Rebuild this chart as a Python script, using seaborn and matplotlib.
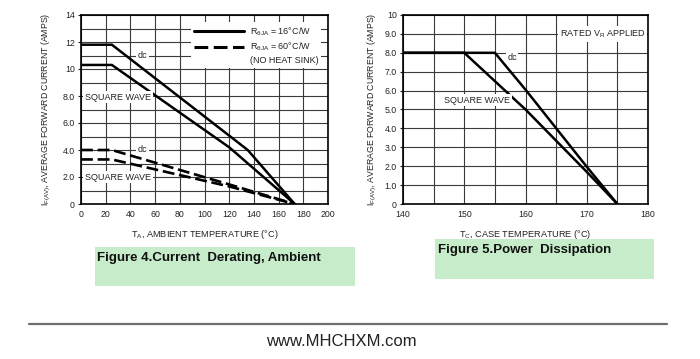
import matplotlib
matplotlib.use("Agg")
import matplotlib.pyplot as plt
from matplotlib.lines import Line2D
from matplotlib.patches import Rectangle
import seaborn as sns
import pandas as pd

# ---- data ----
ta_dc_hs = [0, 25, 135, 173]
if_dc_hs = [11.8, 11.8, 4.0, 0]
ta_sq_hs = [0, 25, 120, 173]
if_sq_hs = [10.3, 10.3, 4.2, 0]
ta_dc_nhs = [0, 25, 120, 173]
if_dc_nhs = [4.0, 4.0, 1.45, 0]
ta_sq_nhs = [0, 25, 120, 173]
if_sq_nhs = [3.3, 3.3, 1.3, 0]

tc_dc = [140, 155, 160, 170, 175]
if_dc = [8, 8, 6.05, 1.97, 0]
tc_sq = [140, 150, 160, 170, 175]
if_sq = [8, 8, 5.0, 1.7, 0]

left_xticks = [0, 20, 40, 60, 80, 100, 120, 140, 160, 180, 200]
left_yticks = [0, 2, 4, 6, 8, 10, 12, 14]
left_ylabels = ["0", "2.0", "4.0", "6.0", "8.0", "10", "12", "14"]
right_xticks = [140, 150, 160, 170, 180]
right_yticks = [0, 1, 2, 3, 4, 5, 6, 7, 8, 9, 10]
right_ylabels = ["0", "1.0", "2.0", "3.0", "4.0", "5.0", "6.0", "7.0", "8.0", "9.0", "10"]

sns.set_theme(style="white")
NARROW = ["Liberation Sans Narrow", "Liberation Sans", "DejaVu Sans"]
plt.rcParams["font.family"] = NARROW
plt.rcParams["mathtext.fontset"] = "custom"
plt.rcParams["mathtext.rm"] = "Liberation Sans"

W, H = 700, 359
fig = plt.figure(figsize=(7.0, 3.59), dpi=100)
fig.patch.set_facecolor("white")

def fx(px):
    return px / W

def fy(py):
    return 1 - py / H

ax1 = fig.add_axes([fx(81), fy(204), (328 - 81) / W, (204 - 15) / H])
ax2 = fig.add_axes([fx(403), fy(204), (648 - 403) / W, (204 - 15) / H])

GRID = "#3a3a3a"
TICKFS = 6.3
TXT = "#222222"

def style(ax):
    ax.set_facecolor("white")
    for s in ax.spines.values():
        s.set_visible(True)
        s.set_color("black")
        s.set_linewidth(1.2)
    ax.grid(True, which="both", color=GRID, linewidth=0.8)
    ax.set_axisbelow(True)
    ax.tick_params(axis="both", which="major", labelsize=TICKFS, colors=TXT,
                   length=2.5, width=0.8, direction="out", pad=2,
                   left=True, bottom=False)
    ax.tick_params(axis="both", which="minor", length=0, left=False, bottom=False)

# ---------- left chart ----------
frames = []
for name, xs, ys in [("dc_hs", ta_dc_hs, if_dc_hs), ("sq_hs", ta_sq_hs, if_sq_hs),
                     ("dc_nhs", ta_dc_nhs, if_dc_nhs), ("sq_nhs", ta_sq_nhs, if_sq_nhs)]:
    frames.append(pd.DataFrame({"T": xs, "I": ys, "curve": name}))
df1 = pd.concat(frames, ignore_index=True)

for name in ["dc_hs", "sq_hs"]:
    sns.lineplot(data=df1[df1.curve == name], x="T", y="I", ax=ax1, color="black",
                 linewidth=1.8, sort=False, legend=False, estimator=None)
for name in ["dc_nhs", "sq_nhs"]:
    sns.lineplot(data=df1[df1.curve == name], x="T", y="I", ax=ax1, color="black",
                 linewidth=1.9, sort=False, legend=False, estimator=None,
                 dashes=False).lines[-1].set_dashes([4.5, 1.8])

style(ax1)
ax1.set_xlim(0, 200)
ax1.set_ylim(0, 14)
ax1.set_xticks(left_xticks)
ax1.set_xticklabels([str(v) for v in left_xticks])
ax1.set_yticks(left_yticks)
ax1.set_yticklabels(left_ylabels)
ax1.set_yticks(range(0, 15), minor=True)
ax1.set_xlabel(r"T$_{\mathregular{A}}$, AMBIENT TEMPERATURE (°C)", fontsize=6.6,
               color=TXT, labelpad=6)
ax1.set_ylabel(r"I$_{\mathregular{F(AV)}}$, AVERAGE FORWARD CURRENT (AMPS)", fontsize=6.3,
               color=TXT, labelpad=7)

box = dict(facecolor="white", edgecolor="none", pad=1.2)
lblfs = 6.5
ax1.text(50, 11.0, "dc", fontsize=lblfs, ha="center", va="center", bbox=box, color=TXT)
ax1.text(30, 7.9, "SQUARE WAVE", fontsize=lblfs, ha="center", va="center", bbox=box, color=TXT)
ax1.text(50, 4.0, "dc", fontsize=lblfs, ha="center", va="center", bbox=box, color=TXT)
ax1.text(30, 2.0, "SQUARE WAVE", fontsize=lblfs, ha="center", va="center", bbox=box, color=TXT)

h_solid = Line2D([], [], color="black", linewidth=2.2)
h_dash = Line2D([], [], color="black", linewidth=2.2, dashes=[4.5, 1.8])
h_blank = Line2D([], [], color="none")
leg = ax1.legend([h_solid, h_dash, h_blank],
                 [r"R$_{\mathregular{\theta JA}}$ = 16°C/W",
                  r"R$_{\mathregular{\theta JA}}$ = 60°C/W",
                  "(NO HEAT SINK)"],
                 loc="upper right", bbox_to_anchor=(0.99, 0.985), fontsize=6.5,
                 frameon=True, facecolor="white", edgecolor="none", framealpha=1,
                 handlelength=5.6, handletextpad=0.6, labelspacing=0.35,
                 borderpad=0.3, fancybox=False)
for t in leg.get_texts():
    t.set_color(TXT)

# ---------- right chart ----------
df2 = pd.concat([pd.DataFrame({"T": tc_dc, "I": if_dc, "curve": "dc"}),
                 pd.DataFrame({"T": tc_sq, "I": if_sq, "curve": "sq"})], ignore_index=True)
for name in ["dc", "sq"]:
    sns.lineplot(data=df2[df2.curve == name], x="T", y="I", ax=ax2, color="black",
                 linewidth=1.8, sort=False, legend=False, estimator=None)

style(ax2)
ax2.set_xlim(140, 180)
ax2.set_ylim(0, 10)
ax2.set_xticks(right_xticks)
ax2.set_xticklabels([str(v) for v in right_xticks])
ax2.set_xticks(range(140, 181, 5), minor=True)
ax2.set_yticks(right_yticks)
ax2.set_yticklabels(right_ylabels)
ax2.set_xlabel(r"T$_{\mathregular{C}}$, CASE TEMPERATURE (°C)", fontsize=6.6,
               color=TXT, labelpad=6)
ax2.set_ylabel(r"I$_{\mathregular{F(AV)}}$, AVERAGE FORWARD CURRENT (AMPS)", fontsize=6.3,
               color=TXT, labelpad=4)

ax2.text(172.6, 9.0, r"RATED V$_{\mathregular{R}}$ APPLIED", fontsize=lblfs, ha="center",
         va="center", bbox=box, color=TXT)
ax2.text(157.8, 7.75, "dc", fontsize=lblfs, ha="center", va="center", bbox=box, color=TXT)
ax2.text(152.1, 5.5, "SQUARE WAVE", fontsize=lblfs, ha="center", va="center", bbox=box,
         color=TXT)

# ---------- captions, rule, footer ----------
GREEN = "#c6ecca"
fig.patches.append(Rectangle((fx(95), fy(286)), (355 - 95) / W, (286 - 247) / H,
                             transform=fig.transFigure, facecolor=GREEN, edgecolor="none",
                             zorder=0))
fig.patches.append(Rectangle((fx(435), fy(279)), (654 - 435) / W, (279 - 239) / H,
                             transform=fig.transFigure, facecolor=GREEN, edgecolor="none",
                             zorder=0))
fig.text(fx(97), fy(258), "Figure 4.Current  Derating, Ambient", fontsize=9.5,
         fontweight="bold", family=["Liberation Sans", "DejaVu Sans"], va="center",
         ha="left", color="#111111")
fig.text(fx(438), fy(250), "Figure 5.Power  Dissipation", fontsize=9.5,
         fontweight="bold", family=["Liberation Sans", "DejaVu Sans"], va="center",
         ha="left", color="#111111")
fig.add_artist(Line2D([fx(29), fx(667)], [fy(324), fy(324)], transform=fig.transFigure,
                      color="#6e6e6e", linewidth=1.6))
fig.text(fx(341), fy(341), "www.MHCHXM.com", fontsize=12,
         family=["Liberation Sans", "DejaVu Sans"], va="center", ha="center",
         color=TXT)

fig.savefig("out.png", dpi=100, facecolor="white")
